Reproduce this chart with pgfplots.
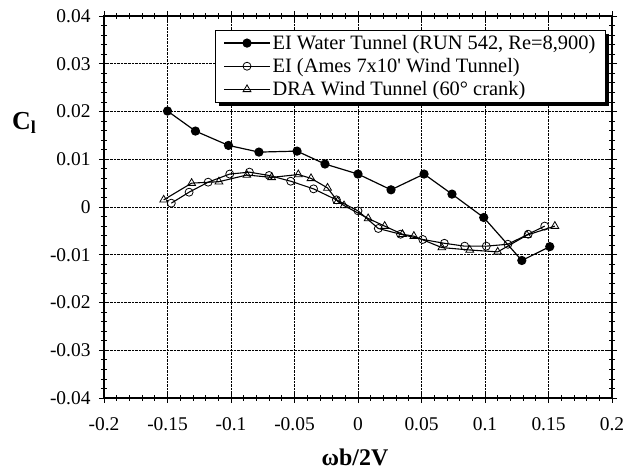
\documentclass[border=0pt]{standalone}
\usepackage{pgfplots}
\pgfplotsset{compat=1.18}
\usepackage{fontspec}
\setmainfont{Liberation Serif}[Ligatures=TeXOff]
\begin{document}
\begin{tikzpicture}
\begin{axis}[
  name=ax,
  at={(0,0)}, anchor=south west,
  scale only axis,
  width=508bp, height=382bp,
  xmin=-0.2, xmax=0.2, ymin=-0.04, ymax=0.04,
  xtick={-0.2,-0.15,...,0.21},
  ytick={-0.04,-0.03,...,0.041},
  minor tick num=4,
  scaled ticks=false,
  /pgf/number format/assume math mode=true,
  /pgf/number format/fixed,
  xticklabel style={font=\fontsize{19.5}{20}\selectfont, /pgf/number format/precision=2, yshift=-11bp},
  yticklabel style={font=\fontsize{19.5}{20}\selectfont, /pgf/number format/precision=2, xshift=-5bp},
  tick align=center,
  major tick length=10bp,
  minor tick length=6bp,
  tick style={black, line width=0.8pt},
  axis line style={line width=1.1pt},
  grid=major,
  grid style={densely dotted, black, line width=0.7pt},
  xlabel={\textbf{ωb/2V}},
  xlabel style={font=\fontsize{24}{26}\selectfont, at={(axis description cs:0.494,-0.155)}, anchor=center},
  ylabel={\textbf{C}\textsubscript{\textbf{l}}},
  ylabel style={font=\fontsize{26}{28}\selectfont, rotate=-90, at={(axis description cs:-0.157,0.72)}, anchor=center},
  legend style={at={(rel axis cs:0.988,0.964)}, anchor=north east, name=leg,
    font=\fontsize{20.5}{22}\selectfont, draw=black, line width=1pt, fill=white,
    row sep=3.5bp, inner xsep=8bp, inner ysep=3bp},
  legend cell align=left,
  legend image code/.code={\draw[mark repeat=2,mark phase=2,#1] plot coordinates {(0bp,0bp) (23bp,0bp) (46bp,0bp)};},
]
\addplot[black, line width=1.2pt, mark=*, mark size=4bp, mark options={solid, fill=black}] coordinates {
(-0.150,0.0201) (-0.128,0.0159) (-0.102,0.0129) (-0.078,0.0115) (-0.048,0.0117)
(-0.026,0.0090) (0.000,0.0069) (0.026,0.0036) (0.052,0.0069) (0.074,0.0027)
(0.099,-0.0022) (0.129,-0.0112) (0.151,-0.0083)
};
\addlegendentry{EI Water Tunnel (RUN 542, Re=8,900)}
\addplot[black, line width=1.1pt, mark=o, mark size=4bp, mark options={solid, fill=white, line width=0.8pt}] coordinates {
(-0.147,0.0008) (-0.133,0.0031) (-0.118,0.0052) (-0.101,0.0069) (-0.0855,0.0073)
(-0.070,0.0066) (-0.053,0.0054) (-0.035,0.0038) (-0.017,0.0015) (0.000,-0.0008)
(0.016,-0.0045) (0.0335,-0.0057) (0.051,-0.0068) (0.068,-0.0076) (0.084,-0.0082)
(0.101,-0.0082) (0.118,-0.0078) (0.134,-0.0057) (0.147,-0.0040)
};
\addlegendentry{EI (Ames 7x10' Wind Tunnel)}
\addplot[black, line width=1.1pt, mark=triangle, mark size=4.5bp, mark options={solid, fill=white, line width=0.8pt}] coordinates {
(-0.153,0.0015) (-0.131,0.0050) (-0.1095,0.0053) (-0.0875,0.0067) (-0.068,0.0062)
(-0.047,0.0068) (-0.037,0.0060) (-0.024,0.0040) (-0.016,0.0012) (-0.011,0.0003)
(0.008,-0.0024) (0.021,-0.0040) (0.035,-0.0057) (0.044,-0.0061) (0.066,-0.0085)
(0.088,-0.0090) (0.110,-0.0094) (0.133,-0.0059) (0.155,-0.0040)
};
\addlegendentry{DRA Wind Tunnel (60° crank)}
\end{axis}
\draw[line width=2.5bp] ([xshift=1.6bp,yshift=-4bp]leg.north east) -- ([xshift=1.6bp,yshift=-1.6bp]leg.south east) -- ([xshift=4bp,yshift=-1.6bp]leg.south west);
\pgfresetboundingbox
\path (ax.south west) ++(-104bp,-76bp) rectangle ++(637bp,474bp);
\end{tikzpicture}
\end{document}
